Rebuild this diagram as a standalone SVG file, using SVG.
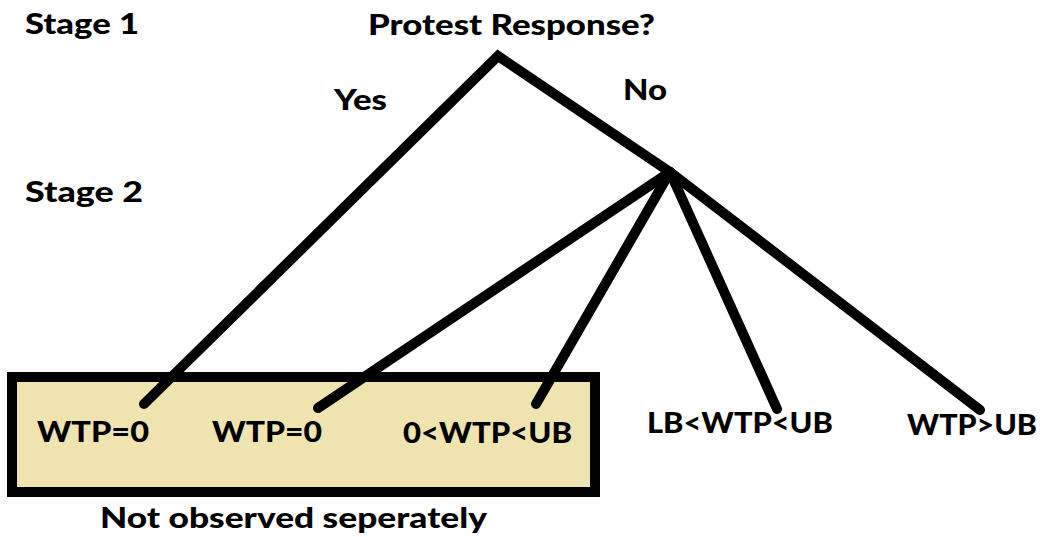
<svg xmlns="http://www.w3.org/2000/svg" width="1044" height="537" viewBox="0 0 1044 537">
<style>
text{font-family:Lato,"Open Sans","Liberation Sans",sans-serif;font-weight:900;fill:#000;font-size:28px}
.ln{stroke:#000;stroke-width:10;stroke-linecap:round;stroke-linejoin:miter;fill:none}
</style>
<rect width="1044" height="537" fill="#fff"/>
<g id="labels">
<text x="25" y="34" textLength="114" lengthAdjust="spacingAndGlyphs">Stage 1</text>
<text x="25" y="202" textLength="118" lengthAdjust="spacingAndGlyphs">Stage 2</text>
<text x="334" y="110" textLength="53" lengthAdjust="spacingAndGlyphs">Yes</text>
<text x="623" y="100" textLength="44" lengthAdjust="spacingAndGlyphs">No</text>
</g>
<g id="root"><text x="368" y="35" textLength="287" lengthAdjust="spacingAndGlyphs">Protest Response?</text></g>
<g id="box">
<rect x="12" y="377" width="583" height="115" fill="#EFE4B0" stroke="#000" stroke-width="10"/>
<text x="100" y="528" textLength="387" lengthAdjust="spacingAndGlyphs">Not observed seperately</text>
</g>
<g id="connectors">
<polyline class="ln" points="144,404 498,56 670,172 980,410"/>
<line class="ln" x1="670" y1="172" x2="318" y2="408"/>
<line class="ln" x1="670" y1="172" x2="536" y2="404"/>
<line class="ln" x1="670" y1="172" x2="777" y2="409"/>
</g>
<g id="n1"><text x="37" y="442" textLength="112" lengthAdjust="spacingAndGlyphs">WTP=0</text></g>
<g id="n2"><text x="212" y="442" textLength="110" lengthAdjust="spacingAndGlyphs">WTP=0</text></g>
<g id="n3"><text x="403" y="443" textLength="169" lengthAdjust="spacingAndGlyphs">0&lt;WTP&lt;UB</text></g>
<g id="n4"><text x="647" y="433" textLength="186" lengthAdjust="spacingAndGlyphs">LB&lt;WTP&lt;UB</text></g>
<g id="n5"><text x="907" y="435" textLength="130" lengthAdjust="spacingAndGlyphs">WTP&gt;UB</text></g>
</svg>
